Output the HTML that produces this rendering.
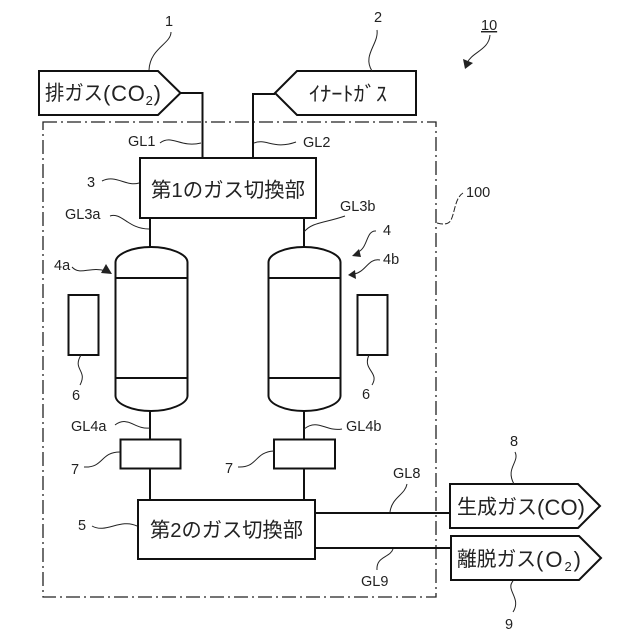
<!DOCTYPE html>
<html><head><meta charset="utf-8"><style>
html,body{margin:0;padding:0;background:#fff}
svg{display:block}
text{font-family:"Liberation Sans","Noto Sans CJK JP",sans-serif;fill:#222}
.n{font-size:14.5px}
.j{font-size:20.5px}
.l{font-size:22px}
.s{fill:none;stroke:#111;stroke-width:2}
.w{fill:none;stroke:#222;stroke-width:1}
</style></head><body>
<svg width="640" height="640" viewBox="0 0 640 640" xmlns="http://www.w3.org/2000/svg">
<rect width="640" height="640" fill="#fff"/>
<!-- frame -->
<rect x="43" y="122" width="393" height="475" fill="none" stroke="#222" stroke-width="1.3" stroke-dasharray="14 4 2 4"/>
<!-- input pentagons -->
<path class="s" d="M39 71H158L180.500 93L158 115H39Z"/>
<path class="s" d="M416 71H297L275 93L297 115H416Z"/>
<path class="s" d="M180 93H202.500V158"/>
<path class="s" d="M275 94H253V158"/>
<!-- switching 1 -->
<rect class="s" x="140" y="158" width="176" height="60" fill="#fff"/>
<path class="s" d="M150 218V247M304 218V247"/>
<!-- vessels -->
<path class="s" d="M115.500 262C116 254 132 247 151 247C170 247 187 254 187.500 262V396C187 404 170 411 151 411C132 411 116 404 115.500 396Z"/>
<path class="s" d="M116 278H187M116 378H187"/>
<path class="s" d="M268.500 262C269 254 285 247 304 247C323 247 340 254 340.500 262V396C340 404 323 411 304 411C285 411 269 404 268.500 396Z"/>
<path class="s" d="M269 278H340M269 378H340"/>
<path class="s" d="M150 411V440M304 411V440M150 469V500M304 469V500"/>
<rect class="s" x="120.500" y="439.500" width="60" height="29"/>
<rect class="s" x="274" y="439.500" width="61" height="29"/>
<rect class="s" x="68.500" y="295" width="30" height="60"/>
<rect class="s" x="357.500" y="295" width="30" height="60"/>
<!-- switching 2 -->
<rect class="s" x="138" y="500" width="177" height="59"/>
<path class="s" d="M315 513H450M315 548H451"/>
<!-- output pentagons -->
<path class="s" d="M450 484H578L600 506L578 528H450Z"/>
<path class="s" d="M451 536H579L601 558L579 580H451Z"/>
<!-- leaders -->
<path class="w" d="M171 32C171 44 150 48 149 70"/>
<path class="w" d="M377 30C379 44 362 55 372 71"/>
<path class="w" d="M490 35C489 50 472 52 467 63"/>
<path d="M465 69L463 59L473 63Z" fill="#222"/>
<path class="w" d="M160 143C172 134 180 148 201 143"/>
<path class="w" d="M254 143C266 138 274 150 296 142"/>
<path class="w" d="M102 181C116 174 126 187 139 183"/>
<path class="w" d="M110 216C122 212 128 229 149 229"/>
<path class="w" d="M304 232C312 222 325 223 345 216"/>
<path class="w" d="M437 223C444 225 449 224 451 220C455 212 455 198 463 193" stroke-dasharray="6 2"/>
<path class="w" d="M376 231C366 230 368 248 358 252"/>
<path d="M352 256L359 249L361 257Z" fill="#222"/>
<path class="w" d="M380 260C368 258 366 272 354 274"/>
<path d="M348 275L355 270L356 279Z" fill="#222"/>
<path class="w" d="M72 267C80 276 90 266 106 271"/>
<path d="M112 274L106 264L101 273Z" fill="#222"/>
<path class="w" d="M81 355C72 370 88 370 80 385"/>
<path class="w" d="M369 355C362 370 380 372 372 385"/>
<path class="w" d="M115 425C128 415 135 430 150 428"/>
<path class="w" d="M304 429C318 418 326 432 342 429"/>
<path class="w" d="M84 467C104 468 100 452 120 452"/>
<path class="w" d="M238 467C258 468 254 452 274 451"/>
<path class="w" d="M92 526C106 534 120 518 137 526"/>
<path class="w" d="M407 484C405 495 392 497 390 512"/>
<path class="w" d="M393 549C390 558 376 556 377 570"/>
<path class="w" d="M515 452C520 462 505 468 514 484"/>
<path class="w" d="M513 581C505 590 522 598 513 612"/>
<!-- numbers -->
<text class="n" x="165" y="26">1</text>
<text class="n" x="374" y="22">2</text>
<text class="n" x="481" y="30" style="text-decoration:underline">10</text>
<text class="n" x="128" y="146">GL1</text>
<text class="n" x="303" y="147">GL2</text>
<text class="n" x="87" y="187">3</text>
<text class="n" x="65" y="219">GL3a</text>
<text class="n" x="340" y="211">GL3b</text>
<text class="n" x="466" y="197">100</text>
<text class="n" x="383" y="235">4</text>
<text class="n" x="383" y="264">4b</text>
<text class="n" x="54" y="270">4a</text>
<text class="n" x="72" y="400">6</text>
<text class="n" x="362" y="399">6</text>
<text class="n" x="71" y="431">GL4a</text>
<text class="n" x="346" y="431">GL4b</text>
<text class="n" x="71" y="474">7</text>
<text class="n" x="225" y="473">7</text>
<text class="n" x="78" y="530">5</text>
<text class="n" x="393" y="478">GL8</text>
<text class="n" x="361" y="586">GL9</text>
<text class="n" x="510" y="446">8</text>
<text class="n" x="505" y="629">9</text>
<!-- Japanese labels -->
<text class="j" x="45" y="100" textLength="58" lengthAdjust="spacingAndGlyphs">排ガス</text>
<text class="l" x="103" y="101" textLength="58">(CO<tspan font-size="13" dy="4">2</tspan><tspan dy="-4">)</tspan></text>
<text class="j" x="309" y="101" textLength="78" lengthAdjust="spacingAndGlyphs">ｲﾅｰﾄｶﾞｽ</text>
<text class="j" x="151" y="197" textLength="154" lengthAdjust="spacingAndGlyphs">第1のガス切換部</text>
<text class="j" x="150" y="537" textLength="153" lengthAdjust="spacingAndGlyphs">第2のガス切換部</text>
<text class="j" x="457" y="514" textLength="80" lengthAdjust="spacingAndGlyphs">生成ガス</text>
<text class="l" x="537" y="515" textLength="48">(CO)</text>
<text class="j" x="457" y="566" textLength="79" lengthAdjust="spacingAndGlyphs">離脱ガス</text>
<text class="l" x="536" y="567" textLength="45">(O<tspan font-size="13" dy="4">2</tspan><tspan dy="-4">)</tspan></text>
</svg>
</body></html>
